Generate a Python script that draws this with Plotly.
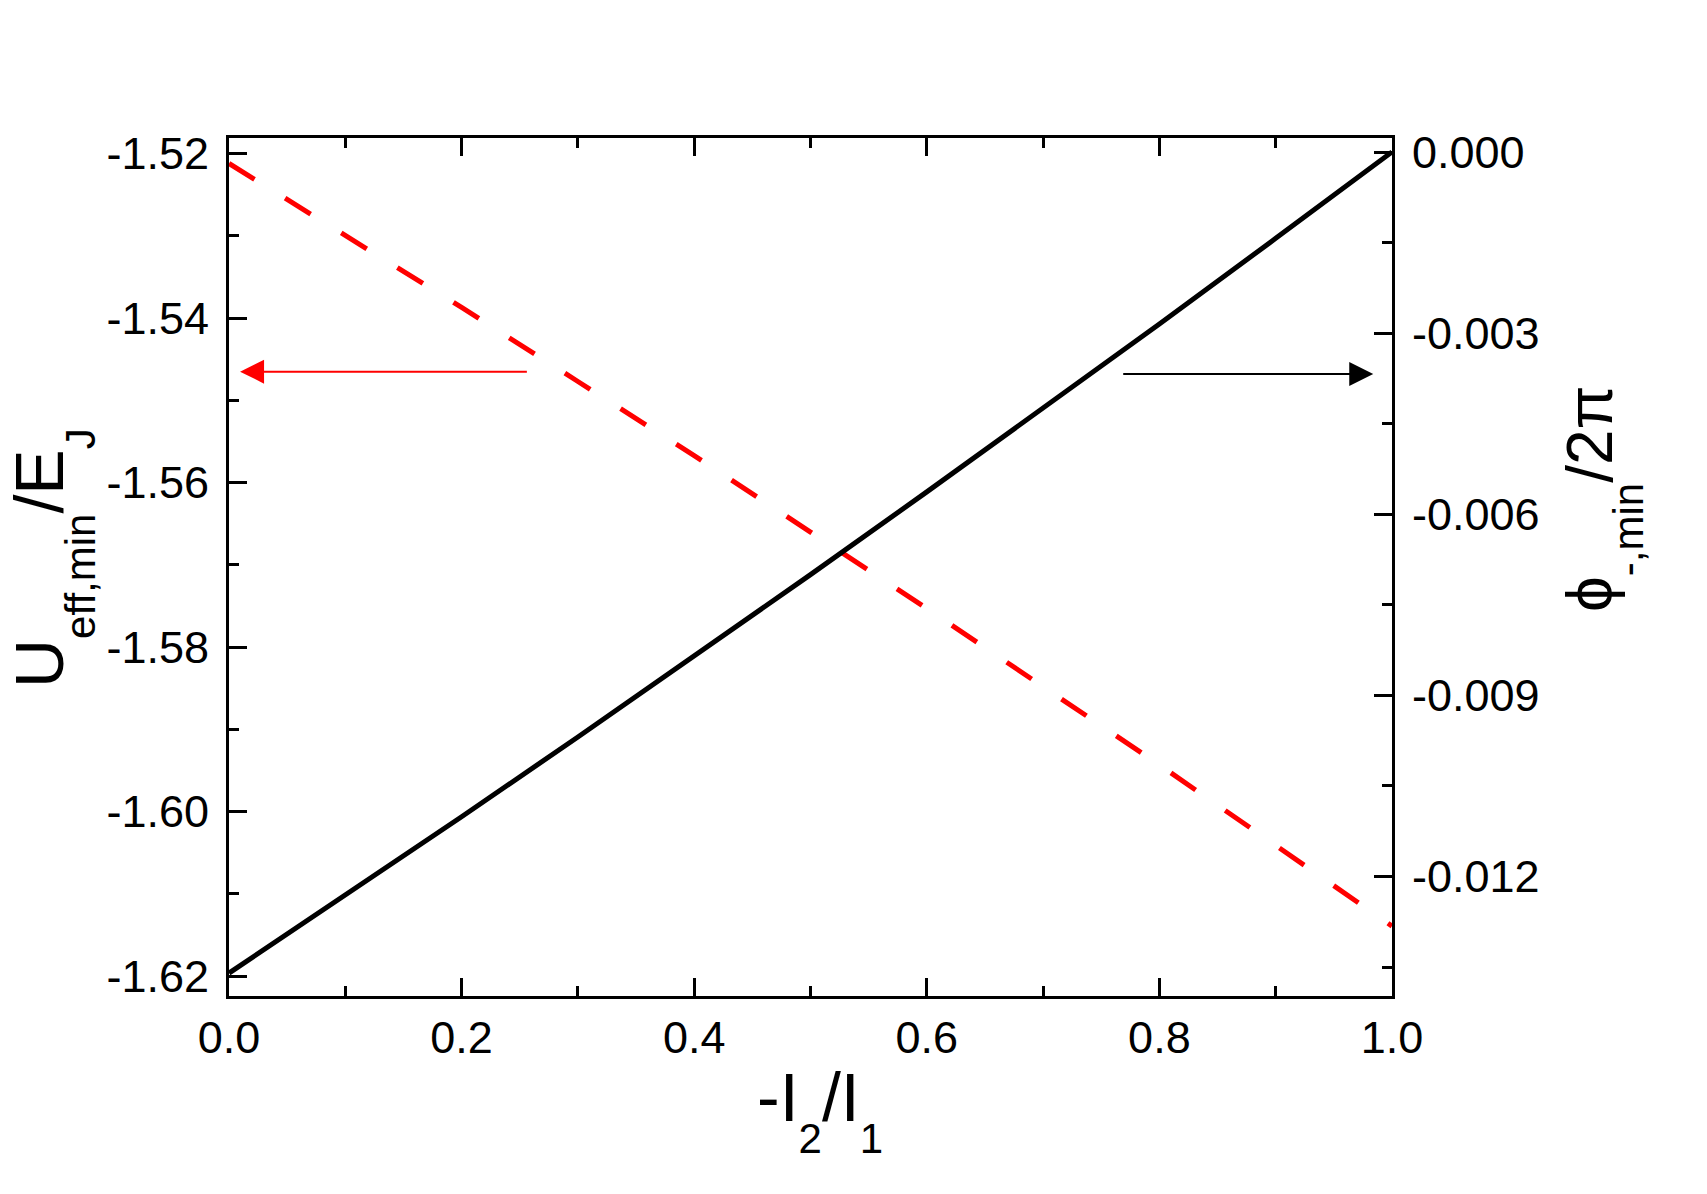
import plotly.graph_objects as go

# ---- data ----
ratio = [0.0, 0.1, 0.2, 0.3, 0.4, 0.5, 0.6, 0.7, 0.8, 0.9, 1.0]
u_eff_min = [-1.5212, -1.5299, -1.5387, -1.5477, -1.5567, -1.5660,
             -1.5753, -1.5848, -1.5943, -1.6041, -1.6139]
phi_min = [-0.01360, -0.01231, -0.01101, -0.00969, -0.00835, -0.00700,
           -0.00563, -0.00425, -0.00285, -0.00143, 0.00000]

x_tickvals = [0.0, 0.2, 0.4, 0.6, 0.8, 1.0]
x_ticktext = ["0.0", "0.2", "0.4", "0.6", "0.8", "1.0"]
x_minor = [0.1, 0.3, 0.5, 0.7, 0.9]

y_tickvals = [-1.62, -1.60, -1.58, -1.56, -1.54, -1.52]
y_ticktext = ["-1.62", "-1.60", "-1.58", "-1.56", "-1.54", "-1.52"]
y_minor = [-1.61, -1.59, -1.57, -1.55, -1.53]

y2_tickvals = [-0.012, -0.009, -0.006, -0.003, 0.0]
y2_ticktext = ["-0.012", "-0.009", "-0.006", "-0.003", "0.000"]
y2_minor = [-0.0135, -0.0105, -0.0075, -0.0045, -0.0015]

FONT = "Liberation Sans, Arial, Helvetica, sans-serif"

L, R, T, B = 229, 1707 - 1392, 138, 1194 - 996
PW, PH = 1707 - L - R, 1194 - T - B

def px2paper_x(px):
    return (px - L) / PW

def px2paper_y(py):
    return (1194 - B - py) / PH

fig = go.Figure()

fig.add_trace(go.Scatter(
    x=ratio, y=u_eff_min, mode="lines", yaxis="y",
    line=dict(color="#ff0000", width=5, dash="30px,36px"),
    showlegend=False, hoverinfo="skip"))

fig.add_trace(go.Scatter(
    x=ratio, y=phi_min, mode="lines", yaxis="y2",
    line=dict(color="#000000", width=5),
    showlegend=False, hoverinfo="skip"))

tickfont = dict(family=FONT, size=45, color="black")

fig.update_layout(
    width=1707, height=1194,
    margin=dict(l=L, r=R, t=T, b=B, autoexpand=False),
    paper_bgcolor="white", plot_bgcolor="white",
    font=dict(family=FONT, color="black"),
    xaxis=dict(
        range=[0, 1], tickmode="array", tickvals=x_tickvals, ticktext=x_ticktext,
        ticks="inside", ticklen=18, tickwidth=3, tickcolor="black",
        showline=True, linewidth=3, linecolor="black", mirror="ticks",
        showgrid=False, zeroline=False, tickfont=tickfont,
        ticklabelstandoff=0,
        minor=dict(tickvals=x_minor, ticks="inside", ticklen=10, tickwidth=3,
                   tickcolor="black", showgrid=False),
    ),
    yaxis=dict(
        range=[-1.6224, -1.5181], tickmode="array", tickvals=y_tickvals,
        ticktext=y_ticktext,
        ticks="inside", ticklen=18, tickwidth=3, tickcolor="black",
        showline=True, linewidth=3, linecolor="black",
        showgrid=False, zeroline=False, tickfont=tickfont,
        ticklabelstandoff=8,
        minor=dict(tickvals=y_minor, ticks="inside", ticklen=10, tickwidth=3,
                   tickcolor="black", showgrid=False),
    ),
    yaxis2=dict(
        range=[-0.01398, 0.000232], overlaying="y", side="right",
        tickmode="array", tickvals=y2_tickvals, ticktext=y2_ticktext,
        ticks="inside", ticklen=18, tickwidth=3, tickcolor="black",
        showline=True, linewidth=3, linecolor="black",
        showgrid=False, zeroline=False, tickfont=tickfont,
        ticklabelstandoff=8,
        minor=dict(tickvals=y2_minor, ticks="inside", ticklen=10, tickwidth=3,
                   tickcolor="black", showgrid=False),
    ),
)

sub_style = "font-size:42px;baseline-shift:-18px"
title_font = dict(family=FONT, size=68, color="black")
right_title_font = dict(family=FONT, size=64, color="black")

annotations = [
    # axis titles
    dict(text=f"U<sub><span style='{sub_style}'>eff,min</span></sub>/E<sub><span style='{sub_style}'>J</span></sub>",
         xref="paper", yref="paper", x=px2paper_x(52), y=px2paper_y(558),
         xanchor="center", yanchor="middle", textangle=-90, showarrow=False,
         font=title_font),
    dict(text=f"ϕ<sub><span style='{sub_style}'>-,min</span></sub>/2π",
         xref="paper", yref="paper", x=px2paper_x(1603), y=px2paper_y(498),
         xanchor="center", yanchor="middle", textangle=-90, showarrow=False,
         font=right_title_font),
    dict(text=f"-I<sub><span style='{sub_style}'>2</span></sub>/I<sub><span style='{sub_style}'>1</span></sub>",
         xref="paper", yref="paper", x=px2paper_x(820), y=px2paper_y(1110),
         xanchor="center", yanchor="middle", showarrow=False,
         font=title_font),
    # arrows pointing to the axis of each curve
    dict(text="", xref="x", yref="y", x=0.0095, y=-1.5465,
         axref="x", ayref="y", ax=0.2574, ay=-1.5465,
         showarrow=True, arrowhead=2, arrowsize=2.4, arrowwidth=2,
         arrowcolor="#ff0000"),
    dict(text="", xref="x", yref="y", x=0.9839, y=-1.5468,
         axref="x", ayref="y", ax=0.7676, ay=-1.5468,
         showarrow=True, arrowhead=2, arrowsize=2.4, arrowwidth=2,
         arrowcolor="#000000"),
]
fig.update_layout(annotations=annotations)

fig.write_html("out.html")
